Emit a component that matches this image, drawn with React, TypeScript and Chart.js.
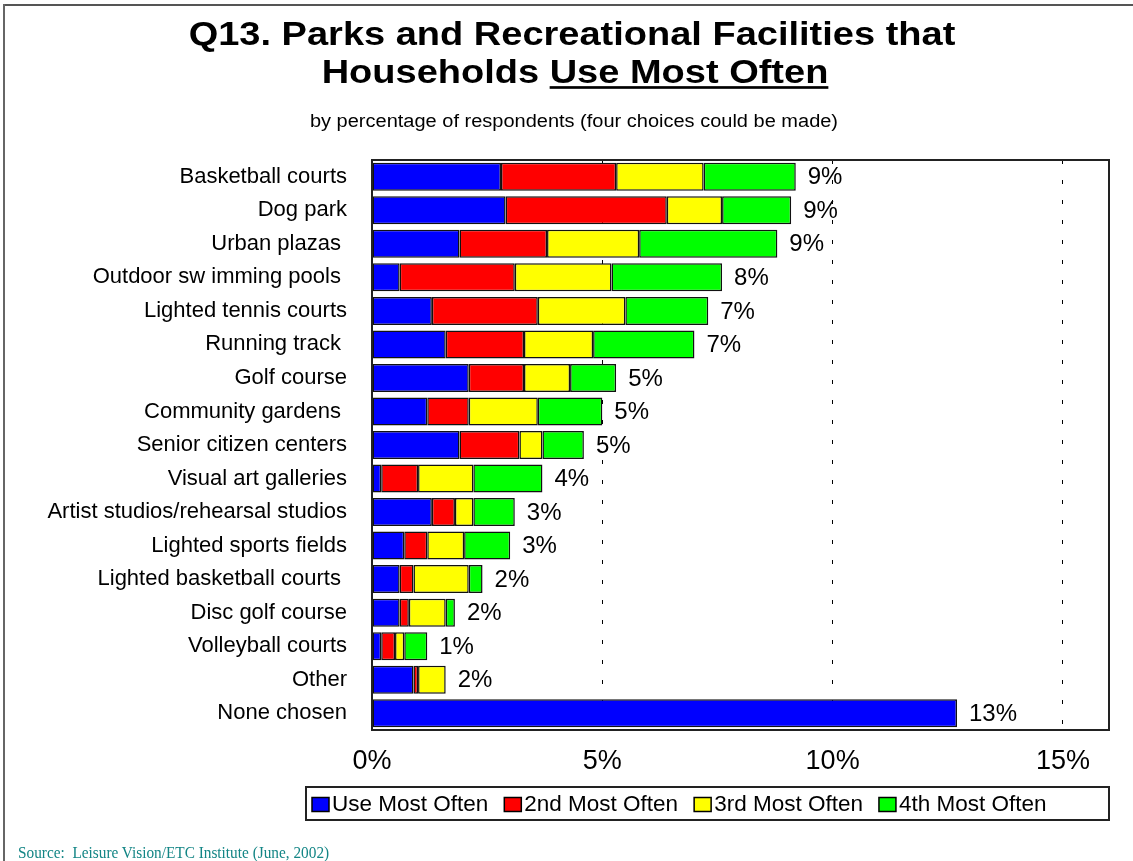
import React, { useEffect, useRef } from "react";
import { Chart, registerables } from "chart.js";

Chart.register(...registerables);

const categories = [
  "Basketball courts",
  "Dog park",
  "Urban plazas ",
  "Outdoor sw imming pools ",
  "Lighted tennis courts",
  "Running track ",
  "Golf course",
  "Community gardens ",
  "Senior citizen centers",
  "Visual art galleries",
  "Artist studios/rehearsal studios",
  "Lighted sports fields",
  "Lighted basketball courts ",
  "Disc golf course",
  "Volleyball courts",
  "Other",
  "None chosen",
];

const useMostOften = [2.8, 2.9, 1.9, 0.6, 1.3, 1.6, 2.1, 1.2, 1.9, 0.2, 1.3, 0.7, 0.6, 0.6, 0.2, 0.9, 12.7];
const secondMostOften = [2.5, 3.5, 1.9, 2.5, 2.3, 1.7, 1.2, 0.9, 1.3, 0.8, 0.5, 0.5, 0.3, 0.2, 0.3, 0.1, 0];
const thirdMostOften = [1.9, 1.2, 2.0, 2.1, 1.9, 1.5, 1.0, 1.5, 0.5, 1.2, 0.4, 0.8, 1.2, 0.8, 0.2, 0.6, 0];
const fourthMostOften = [2.0, 1.5, 3.0, 2.4, 1.8, 2.2, 1.0, 1.4, 0.9, 1.5, 0.9, 1.0, 0.3, 0.2, 0.5, 0, 0];

const totalLabels = ["9%", "9%", "9%", "8%", "7%", "7%", "5%", "5%", "5%", "4%", "3%", "3%", "2%", "2%", "1%", "2%", "13%"];

const seriesNames = ["Use Most Often", "2nd Most Often", "3rd Most Often", "4th Most Often"];
const seriesColors = ["#0000FF", "#FF0000", "#FFFF00", "#00FF00"];

const xTicks = [0, 5, 10, 15];
const xMax = 16;

const extrasPlugin = {
  id: "extras",
  afterDatasetsDraw(chart: any) {
    const ctx = chart.ctx;
    const { left, top, right, bottom } = chart.chartArea;
    const xs = chart.scales.x;
    const ys = chart.scales.y;
    ctx.save();
    // plot border
    ctx.strokeStyle = "#222";
    ctx.lineWidth = 2;
    ctx.strokeRect(left, top, right - left, bottom - top);
    // value labels
    ctx.fillStyle = "#000";
    ctx.font = "24px Arial, 'Liberation Sans', sans-serif";
    ctx.textAlign = "left";
    ctx.textBaseline = "middle";
    categories.forEach((_, i) => {
      const total =
        useMostOften[i] + secondMostOften[i] + thirdMostOften[i] + fourthMostOften[i];
      const x = xs.getPixelForValue(total) + 12;
      const y = ys.getPixelForValue(i) + 1;
      ctx.fillText(totalLabels[i], x, y);
    });
    // legend
    const lx = 306, ly = 787, lw = 803, lh = 33;
    ctx.lineWidth = 2;
    ctx.strokeStyle = "#222";
    ctx.strokeRect(lx, ly, lw, lh);
    ctx.font = "22.5px Arial, 'Liberation Sans', sans-serif";
    let x = lx + 6;
    const cy = ly + lh / 2 + 1;
    chart.data.datasets.forEach((ds: any) => {
      ctx.fillStyle = ds.backgroundColor;
      ctx.fillRect(x, cy - 7, 17, 14);
      ctx.strokeStyle = "#000";
      ctx.lineWidth = 1.5;
      ctx.strokeRect(x, cy - 7, 17, 14);
      ctx.fillStyle = "#000";
      ctx.fillText(ds.label, x + 20, cy);
      x += 20 + ctx.measureText(ds.label).width + 16;
    });
    ctx.restore();
  },
};

export default function App() {
  const canvasRef = useRef<HTMLCanvasElement | null>(null);

  useEffect(() => {
    if (!canvasRef.current) return;
    const datasets = [useMostOften, secondMostOften, thirdMostOften, fourthMostOften].map(
      (arr, k) => ({
        label: seriesNames[k],
        data: arr,
        backgroundColor: seriesColors[k],
        borderColor: "#111",
        borderWidth: 1.5,
        borderSkipped: false as const,
        categoryPercentage: 1,
        barPercentage: 0.835,
      })
    );
    const chart = new Chart(canvasRef.current, {
      type: "bar",
      data: { labels: categories, datasets },
      options: {
        indexAxis: "y",
        responsive: false,
        animation: false,
        devicePixelRatio: 1,
        layout: { padding: { top: 160, right: 24, bottom: 81, left: 0 } },
        plugins: {
          legend: { display: false },
          title: { display: false },
          tooltip: { enabled: false },
        },
        scales: {
          x: {
            type: "linear",
            stacked: true,
            min: 0,
            max: xMax,
            afterBuildTicks: (scale: any) => {
              scale.ticks = xTicks.map((v) => ({ value: v }));
            },
            afterFit: (scale: any) => {
              scale.height = 50;
            },
            ticks: {
              color: "#000",
              font: { family: "Arial, 'Liberation Sans', sans-serif", size: 27 },
              padding: 15,
              callback: (v: any) => `${v}%`,
            },
            grid: {
              drawTicks: false,
              color: (c: any) => (c.tick && c.tick.value === 0 ? "rgba(0,0,0,0)" : "#000"),
              lineWidth: 1,
            },
            border: { display: true, color: "#222", width: 2, dash: [4, 16] },
          },
          y: {
            type: "category",
            stacked: true,
            afterFit: (scale: any) => {
              scale.width = 372;
            },
            ticks: {
              color: "#000",
              font: { family: "Arial, 'Liberation Sans', sans-serif", size: 22 },
              padding: 25,
            },
            grid: { display: false, drawTicks: false },
            border: { display: true, color: "#222", width: 2 },
          },
        },
      },
      plugins: [extrasPlugin],
    });
    return () => chart.destroy();
  }, []);

  const titleFont = "Arial, 'Liberation Sans', sans-serif";

  return (
    <div
      style={{
        position: "fixed",
        left: 0,
        top: 0,
        width: 1133,
        height: 861,
        background: "#fff",
        overflow: "hidden",
      }}
    >
      <canvas ref={canvasRef} width={1133} height={861} style={{ position: "absolute", left: 0, top: 0 }} />
      <div style={{ position: "absolute", left: 4, top: 4, width: 1129, height: 0, borderTop: "2px solid #555" }} />
      <div style={{ position: "absolute", left: 3, top: 4, width: 0, height: 857, borderLeft: "2px solid #666" }} />
      <div
        style={{
          position: "absolute",
          left: 0,
          top: 17,
          width: 1144,
          textAlign: "center",
          fontFamily: titleFont,
          fontWeight: "bold",
          fontSize: 38,
          lineHeight: "38px",
          transform: "scaleY(0.89)",
          transformOrigin: "top",
          whiteSpace: "nowrap",
        }}
      >
        Q13. Parks and Recreational Facilities that
      </div>
      <div
        style={{
          position: "absolute",
          left: 0,
          top: 55,
          width: 1150,
          textAlign: "center",
          fontFamily: titleFont,
          fontWeight: "bold",
          fontSize: 38,
          lineHeight: "38px",
          transform: "scaleY(0.89)",
          transformOrigin: "top",
          whiteSpace: "nowrap",
        }}
      >
        Households{" "}
        <span style={{ textDecoration: "underline", textDecorationThickness: "3px", textUnderlineOffset: "3px" }}>
          Use Most Often
        </span>
      </div>
      <div
        style={{
          position: "absolute",
          left: 0,
          top: 112,
          width: 1148,
          textAlign: "center",
          fontFamily: titleFont,
          fontSize: 20,
          lineHeight: "20px",
          transform: "scaleY(0.9)",
          transformOrigin: "top",
          whiteSpace: "nowrap",
        }}
      >
        by percentage of respondents (four choices could be made)
      </div>
      <div
        style={{
          position: "absolute",
          left: 18,
          top: 844,
          fontFamily: "'Liberation Serif', 'Times New Roman', serif",
          fontSize: 17,
          lineHeight: "17px",
          color: "#138585",
          transform: "scaleX(0.9)",
          transformOrigin: "left",
          whiteSpace: "pre",
        }}
      >
        {"Source:  Leisure Vision/ETC Institute (June, 2002)"}
      </div>
    </div>
  );
}
